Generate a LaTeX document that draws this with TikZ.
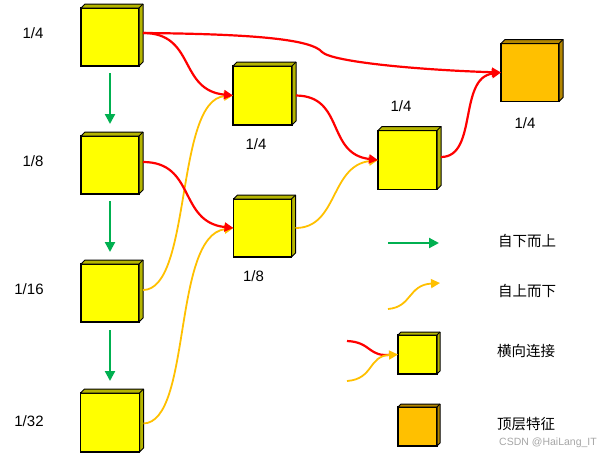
\documentclass[tikz,border=0pt]{standalone}
\usepackage{fontspec}
\setmainfont{Liberation Sans}
\newfontfamily\cjk{Noto Sans CJK SC}
\usetikzlibrary{arrows.meta}
\definecolor{cyel}{HTML}{FFFF00}
\definecolor{cyelside}{HTML}{B5B500}
\definecolor{corg}{HTML}{FFC000}
\definecolor{corgside}{HTML}{B38600}
\definecolor{cred}{HTML}{FF0000}
\definecolor{cgrn}{HTML}{00B050}
\definecolor{cline}{HTML}{FFC000}
\newcommand\cubebox[7]{%
 \node[draw=black, line width=1.3pt, fill=#5, minimum size=#4, inner sep=0pt, outer sep=0pt] (#1) at (#2,#3) {};
 \filldraw[fill=#6, draw=black, line width=1pt, line join=round] (#1.north west) -- ([shift={(#7,#7)}]#1.north west) -- ([shift={(#7,#7)}]#1.north east) -- ([shift={(#7,#7)}]#1.south east) -- (#1.south east) -- (#1.north east) -- cycle;
 \draw[line width=1pt] (#1.north east) -- ([shift={(#7,#7)}]#1.north east);
}
\tikzset{
 redc/.style={draw=cred, line width=2.2pt, -{Triangle[length=9pt,width=9pt]}},
 orgc/.style={draw=cline, line width=1.8pt, -{Triangle[length=9pt,width=9pt]}},
 grnc/.style={draw=cgrn, line width=2.2pt, -{Triangle[length=10pt,width=10pt]}},
 lbl/.style={font=\fontsize{15}{17}\selectfont, inner sep=0pt},
 cjklbl/.style={font=\cjk\fontsize{14.5}{17}\selectfont, inner sep=0pt},
}
\begin{document}
\begin{tikzpicture}[x=1pt,y=-1pt]
\useasboundingbox (0,0) rectangle (602,456);
% cubes
\cubebox{b1}{110}{37}{58pt}{cyel}{cyelside}{4pt}
\cubebox{b2}{110}{165}{58pt}{cyel}{cyelside}{4pt}
\cubebox{b3}{110}{293}{58pt}{cyel}{cyelside}{4pt}
\cubebox{b4}{110}{422.5}{59pt}{cyel}{cyelside}{4pt}
\cubebox{mA}{262.5}{95.5}{59pt}{cyel}{cyelside}{4pt}
\cubebox{mB}{262.5}{228}{58pt}{cyel}{cyelside}{4pt}
\cubebox{C}{407.5}{160}{59pt}{cyel}{cyelside}{4pt}
\cubebox{T}{530}{72.5}{58pt}{corg}{corgside}{4pt}
\cubebox{L1}{417.5}{354.5}{39pt}{cyel}{cyelside}{3pt}
\cubebox{L2}{417.5}{426.5}{39pt}{corg}{corgside}{3pt}
% labels
\node[lbl] (t1) at (33,33) {1/4};
\node[lbl] (t2) at (33,161) {1/8};
\node[lbl] (t3) at (29,289) {1/16};
\node[lbl] (t4) at (29,421) {1/32};
\node[lbl] (tA) at (256,144) {1/4};
\node[lbl] (tB) at (253.5,276) {1/8};
\node[lbl] (tC) at (401,106) {1/4};
\node[lbl] (tT) at (525,123) {1/4};
% green bottom-up
\draw[grnc] ([yshift=-7pt]b1.south) -- ([yshift=12pt]b2.north);
\draw[grnc] ([yshift=-7pt]b2.south) -- ([yshift=12pt]b3.north);
\draw[grnc] ([yshift=-8pt]b3.south) -- ([yshift=12pt]b4.north);
% orange top-down
\draw[orgc] ([xshift=4pt,yshift=3pt]b3.east) .. controls (192,290) and (175,100) .. (mA.west);
\draw[orgc] ([xshift=4pt,yshift=-1pt]b4.east) .. controls (192,422) and (172,236) .. (mB.west);
\draw[orgc] ([xshift=4pt]mB.east) .. controls (338,228) and (330,166) .. (C.west);
% red lateral
\draw[redc] ([xshift=4pt,yshift=4pt]b1.east) .. controls (196,33) and (178,90) .. (mA.west);
\draw[redc] ([xshift=4pt,yshift=3pt]b2.east) .. controls (196,162) and (178,222) .. (mB.west);
\draw[redc] ([xshift=4pt]mA.east) .. controls (345,96) and (326,154) .. (C.west);
\draw[redc] ([xshift=4pt,yshift=3pt]C.east) .. controls (478,157) and (458,78) .. (T.west);
\draw[redc] ([xshift=4pt,yshift=4pt]b1.east) .. controls (260,34) and (312,40) .. (322,52) .. controls (332,62) and (420,70) .. (T.west);
% legend
\coordinate (g1) at (388,243);
\coordinate (g2) at (439,243);
\coordinate (o1) at (388,309);
\coordinate (o2) at (440,283);
\coordinate (r1) at (347,341);
\coordinate (o3) at (347,381);
\draw[grnc] (g1) -- (g2);
\draw[orgc] (o1) .. controls (412,307) and (408,285) .. (o2);
\draw[draw=cred, line width=2.2pt] (r1) .. controls (372,342) and (368,358) .. ([xshift=-6pt]L1.west);
\draw[orgc] (o3) .. controls (374,379) and (368,356) .. (L1.west);
\node[cjklbl] (s1) at (527,241) {自下而上};
\node[cjklbl] (s2) at (527,291) {自上而下};
\node[cjklbl] (s3) at (526,351) {横向连接};
\node[cjklbl] (s4) at (526,424) {顶层特征};
\node[font=\fontsize{10.5}{12}\selectfont, text=black!35, inner sep=0pt] (wm) at (548,443) {CSDN @HaiLang\_IT};
\end{tikzpicture}
\end{document}
